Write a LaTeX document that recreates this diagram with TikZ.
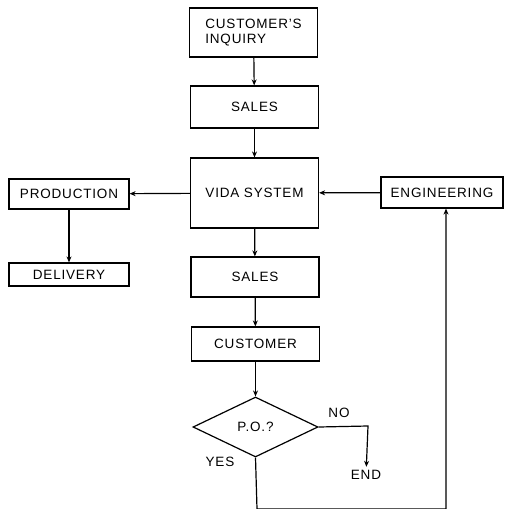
\documentclass[tikz,border=0pt]{standalone}
\usepackage{fontspec}
\setmainfont[LetterSpace=6]{Liberation Sans}
\usetikzlibrary{shapes.geometric,arrows.meta}
\begin{document}
\begin{tikzpicture}[x=1pt,y=-1pt,
    box/.style={draw, line width=1.2pt, minimum width=128pt, inner sep=2pt},
    arr/.style={line width=1.2pt, -{Stealth[length=6pt,width=5pt]}}]
    \useasboundingbox (0,0) rectangle (505,509);
    \tikzset{every node/.append style={font=\fontsize{13.5}{15}\selectfont}}

    % main column
    \node[box, minimum height=49pt, align=left] (inquiry) at (253.5,32.5) {CUSTOMER'S\\INQUIRY};
    \node[box, minimum height=42pt] (sales1) at (254.5,107) {SALES};
    \node[box, minimum height=70pt] (vida) at (254.5,193) {VIDA SYSTEM};
    \node[box, minimum height=40pt] (sales2) at (255,277) {SALES};
    \node[box, minimum height=34pt] (customer) at (255.5,344) {CUSTOMER};
    \node[draw, diamond, line width=1.2pt, minimum width=125pt, minimum height=60pt, inner sep=0pt] (po) at (255.5,427) {P.O.?};

    % side boxes
    \node[box, minimum width=120pt, minimum height=30pt] (production) at (69,194) {PRODUCTION};
    \node[box, minimum width=120pt, minimum height=23pt] (delivery) at (69,274.5) {DELIVERY};
    \node[box, minimum width=122pt, minimum height=31pt] (engineering) at (442,192.5) {ENGINEERING};

    \node (end) at (366,475) {END};
    \node (no) at (339,413) {NO};
    \node (yes) at (220,462) {YES};

    \coordinate (noturn) at (368,426);
    \coordinate (loopl) at (257,509);
    \coordinate (loopr) at (446,509);

    \draw[arr] (inquiry) -- (sales1);
    \draw[arr] (sales1) -- (vida);
    \draw[arr] (vida) -- (sales2);
    \draw[arr] (sales2) -- (customer);
    \draw[arr] (customer) -- (po);
    \draw[arr] (vida) -- (production);
    \draw[arr] (production) -- (delivery);
    \draw[arr] (engineering) -- (vida);
    \draw[arr] (po.east) -- (noturn) -- (end);
    \draw[arr] (po.south) -- (loopl) -- (loopr) -- (engineering.south -| loopr);

\end{tikzpicture}
\end{document}
